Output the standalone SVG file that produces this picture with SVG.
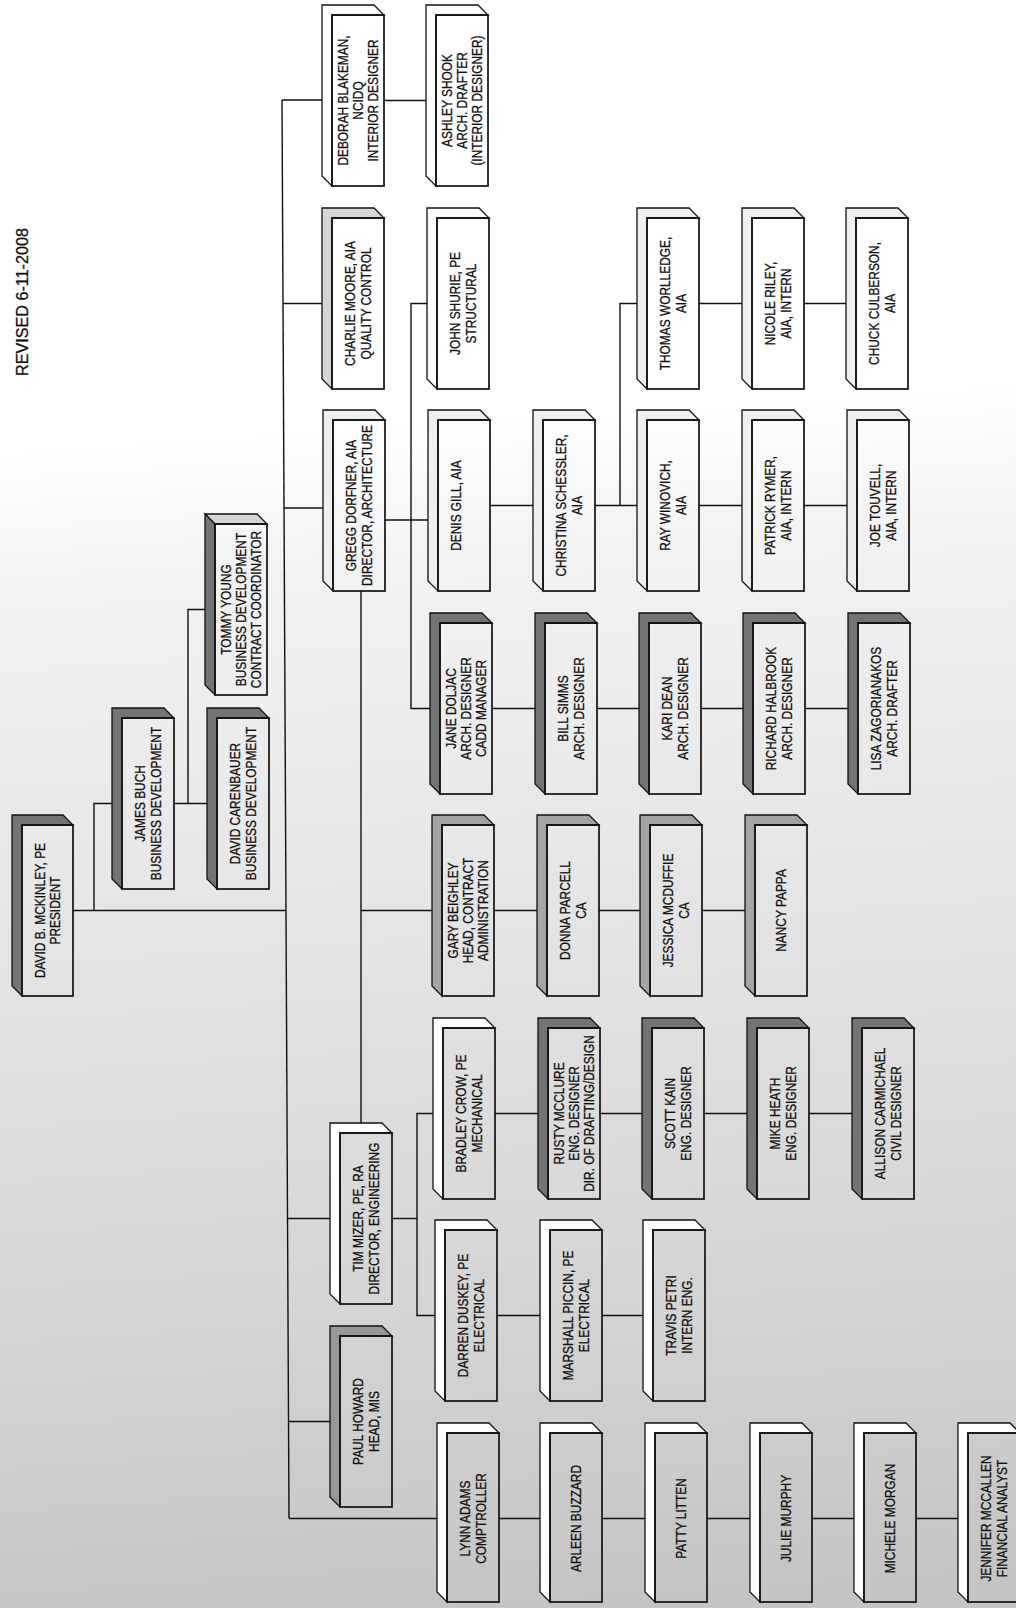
<svg xmlns="http://www.w3.org/2000/svg" width="1016" height="1608" viewBox="0 0 1016 1608">
<defs>
<linearGradient id="bg" gradientUnits="userSpaceOnUse" x1="480" y1="420" x2="560" y2="1608">
<stop offset="0" stop-color="#ffffff"/>
<stop offset="0.12" stop-color="#f2f2f2"/>
<stop offset="0.45" stop-color="#e3e3e3"/>
<stop offset="0.75" stop-color="#d4d4d4"/>
<stop offset="1" stop-color="#c4c4c4"/>
</linearGradient>
<style>
.ex{stroke:#111;stroke-width:1.3;stroke-linejoin:miter}
.w{fill:#ffffff}
.l{fill:#efefef}
.l2{fill:#d6d6d6}
.m{fill:#a4a4a4}
.m2{fill:#989898}
.d{fill:#747474}
.face{fill:none;stroke:#111;stroke-width:1.7}
.cn{fill:none;stroke:#111;stroke-width:1.4}
text{font-family:"Liberation Sans",Arial,sans-serif;font-size:14px;fill:#111;stroke:#111;stroke-width:0.3;text-anchor:middle}
.rev{font-size:17px}
</style>
</defs>
<rect x="0" y="0" width="1016" height="1608" fill="url(#bg)"/>
<text class="rev" transform="translate(22,302) rotate(-90) scale(0.95,1)" y="6">REVISED 6-11-2008</text>

<g id="connectors">
<path class="cn" d="M282,100 L289,1518.5"/>
<path class="cn" d="M282,100 H322"/>
<path class="cn" d="M283,303.5 H322"/>
<path class="cn" d="M284,508 H323"/>
<path class="cn" d="M73,910.5 H286"/>
<path class="cn" d="M287.5,1218.5 H330"/>
<path class="cn" d="M288.5,1421.5 H330"/>
<path class="cn" d="M289,1518.5 H437"/>
<path class="cn" d="M94,910.5 V803.5 H112"/>
<path class="cn" d="M174,803.5 H207"/>
<path class="cn" d="M188,803.5 V609.5 H205"/>
<path class="cn" d="M384,100.5 H426"/>
<path class="cn" d="M427,303.5 H411 V708.5 H430"/>
<path class="cn" d="M385,520 H428"/>
<path class="cn" d="M490,505.5 H533"/>
<path class="cn" d="M595,505.5 H637"/>
<path class="cn" d="M620,505.5 V303.5 H637"/>
<path class="cn" d="M699,303.5 H742"/>
<path class="cn" d="M804,303.5 H846"/>
<path class="cn" d="M699,505.5 H742"/>
<path class="cn" d="M804,505.5 H847"/>
<path class="cn" d="M492,708.5 H535"/>
<path class="cn" d="M597,708.5 H639"/>
<path class="cn" d="M701,708.5 H743"/>
<path class="cn" d="M805,708.5 H848"/>
<path class="cn" d="M361,591 V1123"/>
<path class="cn" d="M361,910.5 H432"/>
<path class="cn" d="M494,910.5 H537"/>
<path class="cn" d="M599,910.5 H640"/>
<path class="cn" d="M702,910.5 H745"/>
<path class="cn" d="M392,1218.5 H417"/>
<path class="cn" d="M433,1113.5 H417 V1315.5 H435"/>
<path class="cn" d="M495,1113.5 H538"/>
<path class="cn" d="M600,1113.5 H642"/>
<path class="cn" d="M704,1113.5 H747"/>
<path class="cn" d="M809,1113.5 H852"/>
<path class="cn" d="M497,1315.5 H540"/>
<path class="cn" d="M602,1315.5 H643"/>
<path class="cn" d="M499,1518.5 H540"/>
<path class="cn" d="M602,1518.5 H645"/>
<path class="cn" d="M707,1518.5 H750"/>
<path class="cn" d="M812,1518.5 H854"/>
<path class="cn" d="M916,1518.5 H958"/>
</g>

<g id="n-mckinley"><polygon class="ex d" points="12,815 63,815 73,825 22,825 22,996 12,986"/><rect class="face" x="22" y="825" width="51" height="171"/>
<text transform="translate(47.5,910.5) rotate(-90) scale(0.85,1)"><tspan x="0" y="-2.8">DAVID B. MCKINLEY, PE</tspan><tspan x="0" y="12.6">PRESIDENT</tspan></text></g>

<g id="n-james"><polygon class="ex d" points="112,708 164,708 174,718 122,718 122,889 112,879"/><rect class="face" x="122" y="718" width="52" height="171"/>
<text transform="translate(148,803.5) rotate(-90) scale(0.85,1)"><tspan x="0" y="-2.8">JAMES BUCH</tspan><tspan x="0" y="12.6">BUSINESS DEVELOPMENT</tspan></text></g>

<g id="n-carenbauer"><polygon class="ex d" points="207,708 259,708 269,718 217,718 217,889 207,879"/><rect class="face" x="217" y="718" width="52" height="171"/>
<text transform="translate(243,803.5) rotate(-90) scale(0.85,1)"><tspan x="0" y="-2.8">DAVID CARENBAUER</tspan><tspan x="0" y="12.6">BUSINESS DEVELOPMENT</tspan></text></g>

<g id="n-tommy"><polygon class="ex l2" points="205,514 257,514 267,524 215,524"/><polygon class="ex d" points="205,514 215,524 215,695 205,685"/><rect class="face" x="215" y="524" width="52" height="171"/>
<text transform="translate(241,609.5) rotate(-90) scale(0.85,1)"><tspan x="0" y="-10.3">TOMMY YOUNG</tspan><tspan x="0" y="4.9">BUSINESS DEVELOPMENT</tspan><tspan x="0" y="20.1">CONTRACT COORDINATOR</tspan></text></g>

<g id="n-deborah"><polygon class="ex w" points="322,5 374,5 384,15 332,15 332,186 322,176"/><rect class="face" x="332" y="15" width="52" height="171"/>
<text transform="translate(358,100.5) rotate(-90) scale(0.85,1)"><tspan x="0" y="-10.3">DEBORAH BLAKEMAN,</tspan><tspan x="0" y="4.9">NCIDQ</tspan><tspan x="0" y="20.1">INTERIOR DESIGNER</tspan></text></g>

<g id="n-ashley"><polygon class="ex w" points="426,5 478,5 488,15 436,15 436,186 426,176"/><rect class="face" x="436" y="15" width="52" height="171"/>
<text transform="translate(462,100.5) rotate(-90) scale(0.85,1)"><tspan x="0" y="-10.3">ASHLEY SHOOK</tspan><tspan x="0" y="4.9">ARCH. DRAFTER</tspan><tspan x="0" y="20.1">(INTERIOR DESIGNER)</tspan></text></g>

<g id="n-charlie"><polygon class="ex l2" points="322,208 374,208 384,218 332,218 332,389 322,379"/><rect class="face" x="332" y="218" width="52" height="171"/>
<text transform="translate(358,303.5) rotate(-90) scale(0.85,1)"><tspan x="0" y="-2.8">CHARLIE MOORE, AIA</tspan><tspan x="0" y="12.6">QUALITY CONTROL</tspan></text></g>

<g id="n-john"><polygon class="ex w" points="427,208 479,208 489,218 437,218 437,389 427,379"/><rect class="face" x="437" y="218" width="52" height="171"/>
<text transform="translate(463,303.5) rotate(-90) scale(0.85,1)"><tspan x="0" y="-2.8">JOHN SHURIE, PE</tspan><tspan x="0" y="12.6">STRUCTURAL</tspan></text></g>

<g id="n-thomas"><polygon class="ex l" points="637,208 689,208 699,218 647,218 647,389 637,379"/><rect class="face" x="647" y="218" width="52" height="171"/>
<text transform="translate(673,303.5) rotate(-90) scale(0.85,1)"><tspan x="0" y="-2.8">THOMAS WORLLEDGE,</tspan><tspan x="0" y="12.6">AIA</tspan></text></g>

<g id="n-nicole"><polygon class="ex l" points="742,208 794,208 804,218 752,218 752,389 742,379"/><rect class="face" x="752" y="218" width="52" height="171"/>
<text transform="translate(778,303.5) rotate(-90) scale(0.85,1)"><tspan x="0" y="-2.8">NICOLE RILEY,</tspan><tspan x="0" y="12.6">AIA, INTERN</tspan></text></g>

<g id="n-chuck"><polygon class="ex l" points="846,208 898,208 908,218 856,218 856,389 846,379"/><rect class="face" x="856" y="218" width="52" height="171"/>
<text transform="translate(882,303.5) rotate(-90) scale(0.85,1)"><tspan x="0" y="-2.8">CHUCK CULBERSON,</tspan><tspan x="0" y="12.6">AIA</tspan></text></g>

<g id="n-gregg"><polygon class="ex l" points="323,410 375,410 385,420 333,420 333,591 323,581"/><rect class="face" x="333" y="420" width="52" height="171"/>
<text transform="translate(359,505.5) rotate(-90) scale(0.85,1)"><tspan x="0" y="-2.8">GREGG DORFNER, AIA</tspan><tspan x="0" y="12.6">DIRECTOR, ARCHITECTURE</tspan></text></g>

<g id="n-denis"><polygon class="ex l" points="428,410 480,410 490,420 438,420 438,591 428,581"/><rect class="face" x="438" y="420" width="52" height="171"/>
<text transform="translate(456,505.5) rotate(-90) scale(0.85,1)"><tspan x="0" y="4.9">DENIS GILL, AIA</tspan></text></g>

<g id="n-christina"><polygon class="ex l" points="533,410 585,410 595,420 543,420 543,591 533,581"/><rect class="face" x="543" y="420" width="52" height="171"/>
<text transform="translate(569,505.5) rotate(-90) scale(0.85,1)"><tspan x="0" y="-2.8">CHRISTINA SCHESSLER,</tspan><tspan x="0" y="12.6">AIA</tspan></text></g>

<g id="n-ray"><polygon class="ex l" points="637,410 689,410 699,420 647,420 647,591 637,581"/><rect class="face" x="647" y="420" width="52" height="171"/>
<text transform="translate(673,505.5) rotate(-90) scale(0.85,1)"><tspan x="0" y="-2.8">RAY WINOVICH,</tspan><tspan x="0" y="12.6">AIA</tspan></text></g>

<g id="n-patrick"><polygon class="ex l" points="742,410 794,410 804,420 752,420 752,591 742,581"/><rect class="face" x="752" y="420" width="52" height="171"/>
<text transform="translate(778,505.5) rotate(-90) scale(0.85,1)"><tspan x="0" y="-2.8">PATRICK RYMER,</tspan><tspan x="0" y="12.6">AIA, INTERN</tspan></text></g>

<g id="n-joe"><polygon class="ex l" points="847,410 899,410 909,420 857,420 857,591 847,581"/><rect class="face" x="857" y="420" width="52" height="171"/>
<text transform="translate(883,505.5) rotate(-90) scale(0.85,1)"><tspan x="0" y="-2.8">JOE TOUVELL,</tspan><tspan x="0" y="12.6">AIA, INTERN</tspan></text></g>

<g id="n-jane"><polygon class="ex d" points="430,613 482,613 492,623 440,623 440,794 430,784"/><rect class="face" x="440" y="623" width="52" height="171"/>
<text transform="translate(466,708.5) rotate(-90) scale(0.85,1)"><tspan x="0" y="-10.3">JANE DOLJAC</tspan><tspan x="0" y="4.9">ARCH. DESIGNER</tspan><tspan x="0" y="20.1">CADD MANAGER</tspan></text></g>

<g id="n-bill"><polygon class="ex d" points="535,613 587,613 597,623 545,623 545,794 535,784"/><rect class="face" x="545" y="623" width="52" height="171"/>
<text transform="translate(571,708.5) rotate(-90) scale(0.85,1)"><tspan x="0" y="-2.8">BILL SIMMS</tspan><tspan x="0" y="12.6">ARCH. DESIGNER</tspan></text></g>

<g id="n-kari"><polygon class="ex d" points="639,613 691,613 701,623 649,623 649,794 639,784"/><rect class="face" x="649" y="623" width="52" height="171"/>
<text transform="translate(675,708.5) rotate(-90) scale(0.85,1)"><tspan x="0" y="-2.8">KARI DEAN</tspan><tspan x="0" y="12.6">ARCH. DESIGNER</tspan></text></g>

<g id="n-richard"><polygon class="ex d" points="743,613 795,613 805,623 753,623 753,794 743,784"/><rect class="face" x="753" y="623" width="52" height="171"/>
<text transform="translate(779,708.5) rotate(-90) scale(0.85,1)"><tspan x="0" y="-2.8">RICHARD HALBROOK</tspan><tspan x="0" y="12.6">ARCH. DESIGNER</tspan></text></g>

<g id="n-lisa"><polygon class="ex d" points="848,613 900,613 910,623 858,623 858,794 848,784"/><rect class="face" x="858" y="623" width="52" height="171"/>
<text transform="translate(884,708.5) rotate(-90) scale(0.85,1)"><tspan x="0" y="-2.8">LISA ZAGORIANAKOS</tspan><tspan x="0" y="12.6">ARCH. DRAFTER</tspan></text></g>

<g id="n-gary"><polygon class="ex m" points="432,815 484,815 494,825 442,825 442,996 432,986"/><rect class="face" x="442" y="825" width="52" height="171"/>
<text transform="translate(468,910.5) rotate(-90) scale(0.85,1)"><tspan x="0" y="-10.3">GARY BEIGHLEY</tspan><tspan x="0" y="4.9">HEAD, CONTRACT</tspan><tspan x="0" y="20.1">ADMINISTRATION</tspan></text></g>

<g id="n-donna"><polygon class="ex m" points="537,815 589,815 599,825 547,825 547,996 537,986"/><rect class="face" x="547" y="825" width="52" height="171"/>
<text transform="translate(573,910.5) rotate(-90) scale(0.85,1)"><tspan x="0" y="-2.8">DONNA PARCELL</tspan><tspan x="0" y="12.6">CA</tspan></text></g>

<g id="n-jessica"><polygon class="ex m" points="640,815 692,815 702,825 650,825 650,996 640,986"/><rect class="face" x="650" y="825" width="52" height="171"/>
<text transform="translate(676,910.5) rotate(-90) scale(0.85,1)"><tspan x="0" y="-2.8">JESSICA MCDUFFIE</tspan><tspan x="0" y="12.6">CA</tspan></text></g>

<g id="n-nancy"><polygon class="ex m" points="745,815 797,815 807,825 755,825 755,996 745,986"/><rect class="face" x="755" y="825" width="52" height="171"/>
<text transform="translate(781,910.5) rotate(-90) scale(0.85,1)"><tspan x="0" y="4.9">NANCY PAPPA</tspan></text></g>

<g id="n-bradley"><polygon class="ex w" points="433,1018 485,1018 495,1028 443,1028 443,1199 433,1189"/><rect class="face" x="443" y="1028" width="52" height="171"/>
<text transform="translate(469,1113.5) rotate(-90) scale(0.85,1)"><tspan x="0" y="-2.8">BRADLEY CROW, PE</tspan><tspan x="0" y="12.6">MECHANICAL</tspan></text></g>

<g id="n-rusty"><polygon class="ex d" points="538,1018 590,1018 600,1028 548,1028 548,1199 538,1189"/><rect class="face" x="548" y="1028" width="52" height="171"/>
<text transform="translate(574,1113.5) rotate(-90) scale(0.85,1)"><tspan x="0" y="-10.3">RUSTY MCCLURE</tspan><tspan x="0" y="4.9">ENG. DESIGNER</tspan><tspan x="0" y="20.1">DIR. OF DRAFTING/DESIGN</tspan></text></g>

<g id="n-scott"><polygon class="ex d" points="642,1018 694,1018 704,1028 652,1028 652,1199 642,1189"/><rect class="face" x="652" y="1028" width="52" height="171"/>
<text transform="translate(678,1113.5) rotate(-90) scale(0.85,1)"><tspan x="0" y="-2.8">SCOTT KAIN</tspan><tspan x="0" y="12.6">ENG. DESIGNER</tspan></text></g>

<g id="n-mike"><polygon class="ex d" points="747,1018 799,1018 809,1028 757,1028 757,1199 747,1189"/><rect class="face" x="757" y="1028" width="52" height="171"/>
<text transform="translate(783,1113.5) rotate(-90) scale(0.85,1)"><tspan x="0" y="-2.8">MIKE HEATH</tspan><tspan x="0" y="12.6">ENG. DESIGNER</tspan></text></g>

<g id="n-allison"><polygon class="ex d" points="852,1018 904,1018 914,1028 862,1028 862,1199 852,1189"/><rect class="face" x="862" y="1028" width="52" height="171"/>
<text transform="translate(888,1113.5) rotate(-90) scale(0.85,1)"><tspan x="0" y="-2.8">ALLISON CARMICHAEL</tspan><tspan x="0" y="12.6">CIVIL DESIGNER</tspan></text></g>

<g id="n-tim"><polygon class="ex w" points="330,1123 382,1123 392,1133 340,1133 340,1304 330,1294"/><rect class="face" x="340" y="1133" width="52" height="171"/>
<text transform="translate(366,1218.5) rotate(-90) scale(0.85,1)"><tspan x="0" y="-2.8">TIM MIZER, PE, RA</tspan><tspan x="0" y="12.6">DIRECTOR, ENGINEERING</tspan></text></g>

<g id="n-darren"><polygon class="ex w" points="435,1220 487,1220 497,1230 445,1230 445,1401 435,1391"/><rect class="face" x="445" y="1230" width="52" height="171"/>
<text transform="translate(471,1315.5) rotate(-90) scale(0.85,1)"><tspan x="0" y="-2.8">DARREN DUSKEY, PE</tspan><tspan x="0" y="12.6">ELECTRICAL</tspan></text></g>

<g id="n-marshall"><polygon class="ex w" points="540,1220 592,1220 602,1230 550,1230 550,1401 540,1391"/><rect class="face" x="550" y="1230" width="52" height="171"/>
<text transform="translate(576,1315.5) rotate(-90) scale(0.85,1)"><tspan x="0" y="-2.8">MARSHALL PICCIN, PE</tspan><tspan x="0" y="12.6">ELECTRICAL</tspan></text></g>

<g id="n-travis"><polygon class="ex w" points="643,1220 695,1220 705,1230 653,1230 653,1401 643,1391"/><rect class="face" x="653" y="1230" width="52" height="171"/>
<text transform="translate(679,1315.5) rotate(-90) scale(0.85,1)"><tspan x="0" y="-2.8">TRAVIS PETRI</tspan><tspan x="0" y="12.6">INTERN ENG.</tspan></text></g>

<g id="n-paul"><polygon class="ex m2" points="330,1326 382,1326 392,1336 340,1336 340,1507 330,1497"/><rect class="face" x="340" y="1336" width="52" height="171"/>
<text transform="translate(366,1421.5) rotate(-90) scale(0.85,1)"><tspan x="0" y="-2.8">PAUL HOWARD</tspan><tspan x="0" y="12.6">HEAD, MIS</tspan></text></g>

<g id="n-lynn"><polygon class="ex w" points="437,1423 489,1423 499,1433 447,1433 447,1602 437,1592"/><rect class="face" x="447" y="1433" width="52" height="169"/>
<text transform="translate(473,1518.5) rotate(-90) scale(0.85,1)"><tspan x="0" y="-2.8">LYNN ADAMS</tspan><tspan x="0" y="12.6">COMPTROLLER</tspan></text></g>

<g id="n-arleen"><polygon class="ex w" points="540,1423 592,1423 602,1433 550,1433 550,1602 540,1592"/><rect class="face" x="550" y="1433" width="52" height="169"/>
<text transform="translate(576,1518.5) rotate(-90) scale(0.85,1)"><tspan x="0" y="4.9">ARLEEN BUZZARD</tspan></text></g>

<g id="n-patty"><polygon class="ex w" points="645,1423 697,1423 707,1433 655,1433 655,1602 645,1592"/><rect class="face" x="655" y="1433" width="52" height="169"/>
<text transform="translate(681,1518.5) rotate(-90) scale(0.85,1)"><tspan x="0" y="4.9">PATTY LITTEN</tspan></text></g>

<g id="n-julie"><polygon class="ex w" points="750,1423 802,1423 812,1433 760,1433 760,1602 750,1592"/><rect class="face" x="760" y="1433" width="52" height="169"/>
<text transform="translate(786,1518.5) rotate(-90) scale(0.85,1)"><tspan x="0" y="4.9">JULIE MURPHY</tspan></text></g>

<g id="n-michele"><polygon class="ex w" points="854,1423 906,1423 916,1433 864,1433 864,1602 854,1592"/><rect class="face" x="864" y="1433" width="52" height="169"/>
<text transform="translate(890,1518.5) rotate(-90) scale(0.85,1)"><tspan x="0" y="4.9">MICHELE MORGAN</tspan></text></g>

<g id="n-jennifer"><polygon class="ex w" points="958,1423 1010,1423 1020,1433 968,1433 968,1602 958,1592"/><rect class="face" x="968" y="1433" width="52" height="169"/>
<text transform="translate(994,1518.5) rotate(-90) scale(0.85,1)"><tspan x="0" y="-2.8">JENNIFER MCCALLEN</tspan><tspan x="0" y="12.6">FINANCIAL ANALYST</tspan></text></g>
</svg>
